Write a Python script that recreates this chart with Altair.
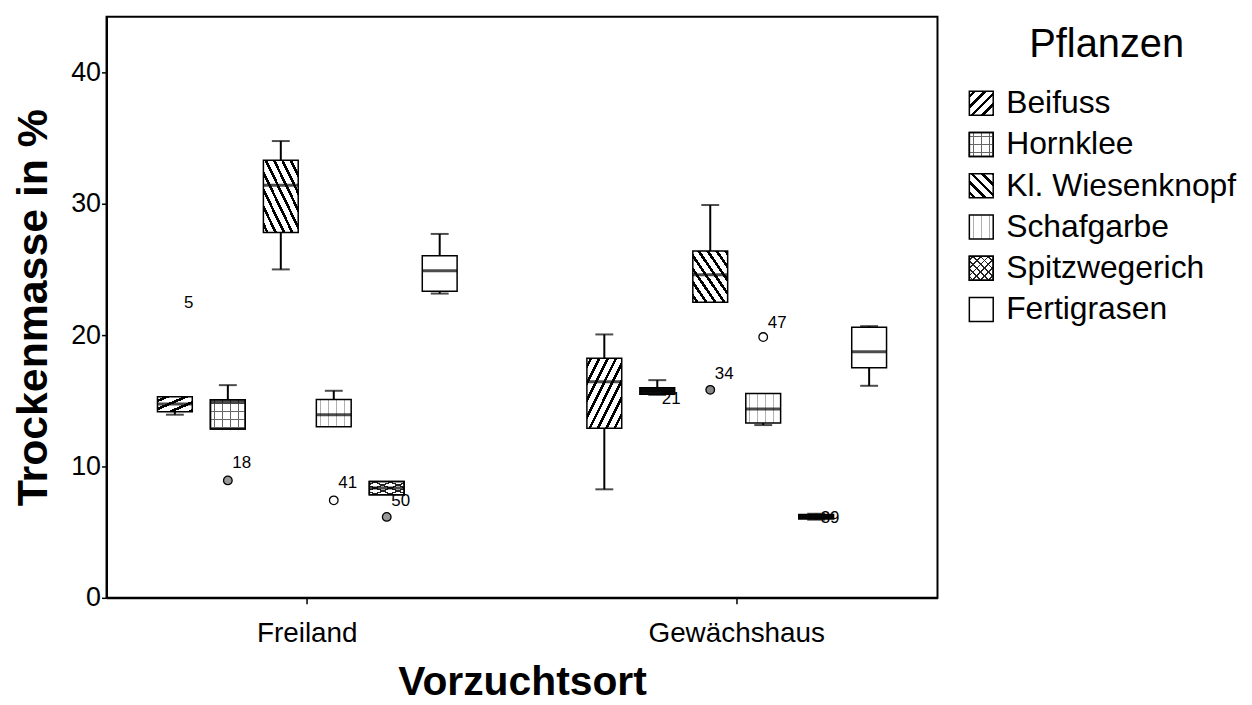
import math
import altair as alt
import pandas as pd

FONT = "Liberation Sans"

plants = ["Beifuss", "Hornklee", "Kl. Wiesenknopf", "Schafgarbe", "Spitzwegerich", "Fertigrasen"]
locations = ["Freiland", "Gewächshaus"]

# box statistics (order: plants within Freiland, then Gewächshaus)
box_ort = ["Freiland"] * 6 + ["Gewächshaus"] * 6
box_pflanze = plants * 2
w_lo = [13.94, 12.85, 25.0, 13.03, 7.85, 23.16, 8.26, 15.45, 22.5, 13.15, 5.95, 16.14]
q1 = [14.17, 12.85, 27.8, 13.03, 7.85, 23.33, 12.9, 15.5, 22.5, 13.3, 6.0, 17.52]
median = [14.75, 14.9, 31.4, 13.94, 8.36, 24.9, 16.44, 15.75, 24.6, 14.37, 6.15, 18.74]
q3 = [15.3, 15.08, 33.3, 15.1, 8.86, 26.04, 18.23, 16.0, 26.4, 15.56, 6.35, 20.6]
w_hi = [15.3, 16.19, 34.77, 15.76, 8.86, 27.7, 20.05, 16.57, 29.9, 15.56, 6.4, 20.68]

# outliers drawn as circles
out_ort = ["Freiland", "Freiland", "Freiland", "Gewächshaus", "Gewächshaus"]
out_pflanze = ["Hornklee", "Schafgarbe", "Spitzwegerich", "Kl. Wiesenknopf", "Schafgarbe"]
out_wert = [8.94, 7.42, 6.16, 15.83, 19.85]

# case labels
lab_ort = ["Freiland"] * 4 + ["Gewächshaus"] * 4
lab_pflanze = ["Beifuss", "Hornklee", "Schafgarbe", "Spitzwegerich",
               "Hornklee", "Kl. Wiesenknopf", "Schafgarbe", "Spitzwegerich"]
lab_wert = [22.42, 10.23, 8.71, 7.35, 15.15, 17.04, 20.9, 6.06]
lab_text = ["5", "18", "41", "50", "21", "34", "47", "39"]

circle_fill = ["#888888", "#999999", "#888888", "#ffffff", "#999999", "#ffffff"]

boxes = pd.DataFrame({"ort": box_ort, "pflanze": box_pflanze, "wlo": w_lo, "q1": q1,
                      "med": median, "q3": q3, "whi": w_hi})
outl = pd.DataFrame({"ort": out_ort, "pflanze": out_pflanze, "wert": out_wert})
labs = pd.DataFrame({"ort": lab_ort, "pflanze": lab_pflanze, "wert": lab_wert, "txt": lab_text})

Y_MAX = 44.24
PLOT_W, PLOT_H = 835, 584
PX_PER_UNIT = PLOT_H / Y_MAX
BOX_W = 35


def stripe_grad(kind, w, h, period, line, color, bg):
    if kind == "/":
        x1, y1, x2, y2 = 0, 0, 1, 1
        L = 2 * w * h / math.hypot(w, h)
    elif kind == "\\":
        x1, y1, x2, y2 = 0, 1, 1, 0
        L = 2 * w * h / math.hypot(w, h)
    elif kind == "|":
        x1, y1, x2, y2 = 0, 0, 1, 0
        L = w
    else:
        x1, y1, x2, y2 = 0, 0, 0, 1
        L = h
    n = max(L / period, 1.0)
    f = line / period
    stops = [{"offset": 0, "color": bg}]
    i = 0
    while True:
        a = (i + 0.5 - f / 2) / n
        b = (i + 0.5 + f / 2) / n
        if a >= 1:
            break
        a = round(max(a, 0.0), 4)
        b = round(min(b, 1.0), 4)
        stops += [{"offset": a, "color": bg}, {"offset": a, "color": color},
                  {"offset": b, "color": color}, {"offset": b, "color": bg}]
        i += 1
    stops.append({"offset": 1, "color": bg})
    return {"gradient": "linear", "x1": x1, "y1": y1, "x2": x2, "y2": y2, "stops": stops}


CLEAR = "rgba(255,255,255,0)"


def fills_for(plant, w, h):
    """list of fills (bottom to top) imitating the SPSS hatch patterns"""
    if h < 8 and plant not in ("Fertigrasen", "Schafgarbe"):
        return ["#111111"]
    if plant == "Beifuss":
        return [stripe_grad("/", w, h, 7.5, 2.6, "black", "white")]
    if plant == "Kl. Wiesenknopf":
        return [stripe_grad("\\", w, h, 7.5, 2.6, "black", "white")]
    if plant == "Hornklee":
        return [stripe_grad("|", w, h, 8, 1.2, "#666666", "white"),
                stripe_grad("-", w, h, 8, 1.2, "#666666", CLEAR)]
    if plant == "Schafgarbe":
        return [stripe_grad("|", w, h, 8, 1.2, "#b0b0b0", "white")]
    if plant == "Spitzwegerich":
        return [stripe_grad("/", w, h, 5.5, 1.3, "#222222", "white"),
                stripe_grad("\\", w, h, 5.5, 1.3, "#222222", CLEAR)]
    return ["white"]


xscale = alt.Scale(domain=locations, paddingInner=0.26, paddingOuter=0.0975)
xenc = alt.X("ort:N", scale=xscale,
             axis=alt.Axis(title="Vorzuchtsort", labelAngle=0, labelFont=FONT, labelFontSize=28,
                           labelColor="black", titleFont=FONT, titleFontSize=41,
                           titleFontWeight="bold", titleColor="black", tickColor="black",
                           tickSize=6, tickWidth=1.5, domainColor="black", domainWidth=2,
                           labelPadding=16, titlePadding=15))
xoff = alt.XOffset("pflanze:N", scale=alt.Scale(domain=plants, paddingInner=0, paddingOuter=0))
yscale = alt.Scale(domain=[0, Y_MAX], nice=False, zero=True)
yaxis = alt.Axis(values=[0, 10, 20, 30, 40], title="Trockenmasse in %", grid=False,
                 labelFont=FONT, labelFontSize=27, labelColor="black", titleFont=FONT,
                 titleFontSize=43, titleFontWeight="bold", titleColor="black", tickColor="black",
                 tickSize=5, tickWidth=1.5, domainColor="black", domainWidth=2, labelPadding=1,
                 titlePadding=15)

base = alt.Chart(boxes)

layers = []
# whiskers
layers.append(base.mark_rule(color="black", strokeWidth=2).encode(
    x=xenc, xOffset=xoff, y=alt.Y("wlo:Q", scale=yscale, axis=yaxis), y2="q1:Q"))
layers.append(base.mark_rule(color="black", strokeWidth=2).encode(
    x=xenc, xOffset=xoff, y=alt.Y("q3:Q", scale=yscale, axis=yaxis), y2="whi:Q"))
# whisker caps
layers.append(base.transform_filter("datum.whi > datum.q3").mark_tick(
    orient="horizontal", size=18, thickness=2, color="black").encode(
    x=xenc, xOffset=xoff, y=alt.Y("whi:Q", scale=yscale, axis=yaxis)))
layers.append(base.transform_filter("datum.wlo < datum.q1").mark_tick(
    orient="horizontal", size=18, thickness=2, color="black").encode(
    x=xenc, xOffset=xoff, y=alt.Y("wlo:Q", scale=yscale, axis=yaxis)))

# boxes with hatch-like fills
for o, p, a, b in zip(box_ort, box_pflanze, q1, q3):
    h_px = (b - a) * PX_PER_UNIT
    for fl in fills_for(p, BOX_W, h_px):
        layers.append(
            base.transform_filter((alt.datum.ort == o) & (alt.datum.pflanze == p))
            .mark_bar(fill=fl, stroke="black", strokeWidth=1.5, width=BOX_W)
            .encode(x=xenc, xOffset=xoff,
                    y=alt.Y("q1:Q", scale=yscale, axis=yaxis), y2="q3:Q"))

# medians
layers.append(base.mark_tick(orient="horizontal", size=BOX_W, thickness=3, color="black").encode(
    x=xenc, xOffset=xoff, y=alt.Y("med:Q", scale=yscale, axis=yaxis)))

# outliers
layers.append(alt.Chart(outl).mark_point(shape="circle", filled=True, size=75, stroke="black",
                                         strokeWidth=1.3, opacity=1).encode(
    x=xenc, xOffset=xoff, y=alt.Y("wert:Q", scale=yscale, axis=yaxis),
    fill=alt.Fill("pflanze:N", scale=alt.Scale(domain=plants, range=circle_fill), legend=None)))

# case labels
layers.append(alt.Chart(labs).mark_text(dx=14, font=FONT, fontSize=17, color="black",
                                        align="center", baseline="middle").encode(
    x=xenc, xOffset=xoff, y=alt.Y("wert:Q", scale=yscale, axis=yaxis), text="txt:N"))

main = alt.layer(*layers).properties(
    width=PLOT_W, height=PLOT_H,
    view=alt.ViewBackground(stroke="black", strokeWidth=2))

# ---------- legend panel ----------
leg = pd.DataFrame({"pflanze": plants})
ly = alt.Y("pflanze:N", sort=plants, axis=None,
           scale=alt.Scale(type="band", domain=plants, paddingInner=0, paddingOuter=0.8, align=1))
leg_layers = []
for p in plants:
    for fl in fills_for(p, 24, 24):
        leg_layers.append(
            alt.Chart(leg).transform_filter(alt.datum.pflanze == p)
            .mark_square(size=576, fill=fl, stroke="black", strokeWidth=1.5, opacity=1)
            .encode(x=alt.value(12), y=ly))
leg_layers.append(alt.Chart(leg).mark_text(align="left", baseline="middle", font=FONT,
                                           fontSize=32, color="black").encode(
    x=alt.value(37), y=ly, text="pflanze:N"))
legend_panel = alt.layer(*leg_layers).properties(
    width=276, height=315,
    title=alt.TitleParams("Pflanzen", font=FONT, fontSize=40, fontWeight="normal",
                          color="black", anchor="middle", baseline="middle", offset=-31,
                          dy=38),
    view=alt.ViewBackground(strokeWidth=0))

chart = alt.hconcat(main, legend_panel, spacing=28).properties(
    padding={"left": 3, "top": 6, "right": 0, "bottom": 0}
).configure_view(strokeWidth=0)

chart.save("out.html", embed_options={"renderer": "svg", "actions": False})
